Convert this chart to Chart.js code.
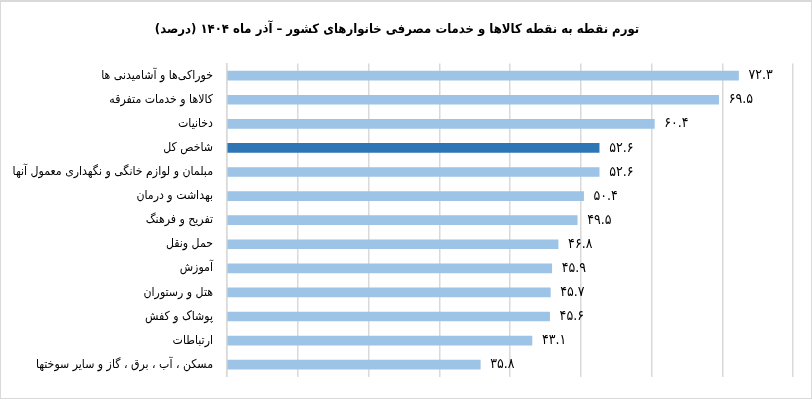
<!DOCTYPE html>
<html>
<head>
<meta charset="utf-8">
<script src="https://cdn.jsdelivr.net/npm/chart.js@4/dist/chart.umd.min.js"></script>
<style>
html,body{margin:0;padding:0;background:#fff;}
#frame{position:absolute;left:0;top:0;width:810px;height:396px;border:1px solid #d9d9d9;border-top:2px solid #d9d9d9;background:#fff;}
canvas{display:block;}
</style>
</head>
<body>
<div id="frame"><canvas id="c" width="810" height="396"></canvas></div>
<script>
const titleText = 'تورم نقطه به نقطه کالاها و خدمات مصرفی خانوارهای کشور – آذر ماه ۱۴۰۴ (درصد)';
const categories = [
  'خوراکی‌ها و آشامیدنی ها',
  'کالاها و خدمات متفرقه',
  'دخانیات',
  'شاخص کل',
  'مبلمان و لوازم خانگی و نگهداری معمول آنها',
  'بهداشت و درمان',
  'تفریح و فرهنگ',
  'حمل ونقل',
  'آموزش',
  'هتل و رستوران',
  'پوشاک و کفش',
  'ارتباطات',
  'مسکن ، آب ، برق ، گاز و سایر سوختها'
];
const values = [72.3, 69.5, 60.4, 52.6, 52.6, 50.4, 49.5, 46.8, 45.9, 45.7, 45.6, 43.1, 35.8];
const highlightCategory = 'شاخص کل';
const axisMin = 0, axisMax = 80, axisStep = 10;

const LIGHT = '#9DC3E6', DARK = '#2E75B6';
const faDigits = '۰۱۲۳۴۵۶۷۸۹';
function toFa(v){ return v.toFixed(1).replace(/[0-9]/g, d => faDigits[+d]); }

const FONT = '"DejaVu Sans Condensed", "DejaVu Sans"';

const valueLabels = {
  id: 'valueLabels',
  afterDatasetsDraw(chart){
    const ctx = chart.ctx;
    const meta = chart.getDatasetMeta(0);
    ctx.save();
    ctx.font = '14px ' + FONT;
    ctx.fillStyle = '#000';
    ctx.textAlign = 'left';
    ctx.textBaseline = 'middle';
    meta.data.forEach((bar, i) => {
      ctx.fillText(toFa(values[i]), bar.x + 10, bar.y);
    });
    ctx.restore();
  }
};

new Chart(document.getElementById('c'), {
  type: 'bar',
  data: {
    labels: categories,
    datasets: [{
      data: values,
      backgroundColor: categories.map(c => c === highlightCategory ? DARK : LIGHT),
      barThickness: 9,
      borderWidth: 0
    }]
  },
  options: {
    indexAxis: 'y',
    responsive: false,
    animation: false,
    layout: { padding: { left: 0, right: 18, top: 0, bottom: 19 } },
    plugins: {
      legend: { display: false },
      tooltip: { enabled: false },
      title: {
        display: true,
        text: titleText,
        color: '#000',
        font: { family: FONT, size: 13, weight: 'bold' },
        padding: { top: 20, bottom: 26 }
      }
    },
    scales: {
      x: {
        min: axisMin, max: axisMax,
        ticks: { display: false, stepSize: axisStep },
        grid: { color: '#d9d9d9', lineWidth: 1.5, drawTicks: false },
        border: { display: false }
      },
      y: {
        grid: { display: false, drawTicks: false },
        border: { display: true, color: '#d9d9d9', width: 1.5 },
        ticks: { color: '#000', padding: 14, font: { family: FONT, size: 12.2 } },
        afterFit(scale){ scale.width = 226; }
      }
    }
  },
  plugins: [valueLabels]
});
</script>
</body>
</html>
